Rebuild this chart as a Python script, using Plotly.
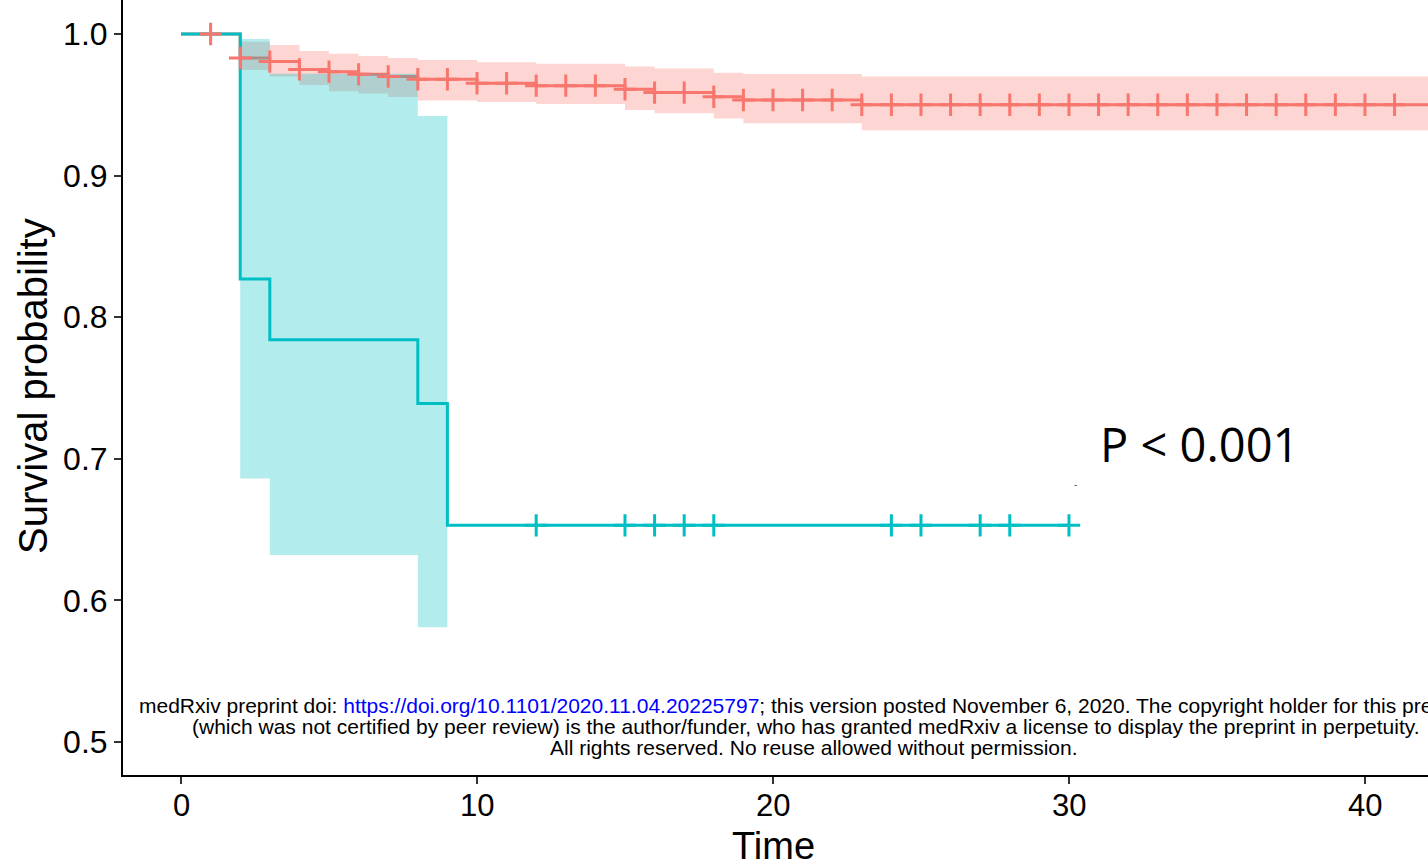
import numpy as np
import plotly.graph_objects as go

# ---------------- data ----------------
red_time = [0, 2, 3, 4, 5, 6, 7, 8, 10, 12, 15, 16, 18, 19, 23, 43]
red_surv = [1.0, 0.983, 0.9805, 0.975, 0.9734, 0.9715, 0.970, 0.968, 0.9652,
            0.9635, 0.961, 0.9586, 0.9557, 0.9534, 0.950, 0.950]
red_band_time = [2, 3, 4, 5, 6, 7, 8, 10, 12, 15, 16, 18, 19, 23, 43]
red_upper = [0.9946, 0.9922, 0.988, 0.986, 0.9845, 0.983, 0.9816, 0.980,
             0.979, 0.977, 0.9757, 0.9727, 0.9717, 0.970, 0.970]
red_lower = [0.9746, 0.970, 0.964, 0.9595, 0.958, 0.9555, 0.953, 0.952,
             0.9506, 0.9463, 0.944, 0.9404, 0.937, 0.932, 0.932]
red_censor = [1, 2, 3, 4, 5, 6, 7, 8, 9, 10, 11, 12, 13, 14, 15, 16, 17, 18,
              19, 20, 21, 22, 23, 24, 25, 26, 27, 28, 29, 30, 31, 32, 33, 34,
              35, 36, 37, 38, 39, 40, 41]

teal_time = [0, 2, 3, 8, 9, 30]
teal_surv = [1.0, 0.827, 0.784, 0.739, 0.653, 0.653]
teal_band_time = [2, 3, 8, 9]
teal_upper = [0.9965, 0.972, 0.942, 0.942]
teal_lower = [0.686, 0.632, 0.581, 0.581]
teal_censor = [12, 15, 16, 17, 18, 24, 25, 27, 28, 30]

x_ticks = [0, 10, 20, 30, 40]
x_tick_labels = ["0", "10", "20", "30", "40"]
y_ticks = [0.5, 0.6, 0.7, 0.8, 0.9, 1.0]
y_tick_labels = ["0.5", "0.6", "0.7", "0.8", "0.9", "1.0"]

p_text = "P < 0.001"
wm_lines = [
    'medRxiv preprint doi: <span style="color:#0000ff">https://doi.org/10.1101/2020.11.04.20225797</span>; '
    'this version posted November 6, 2020. The copyright holder for this preprint',
    '(which was not certified by peer review) is the author/funder, who has granted medRxiv '
    'a license to display the preprint in perpetuity.',
    'All rights reserved. No reuse allowed without permission.',
]

RED = "#F8766D"
TEAL = "#00BFC4"
RED_FILL = "rgba(248,118,109,0.3)"
TEAL_FILL = "rgba(0,191,196,0.3)"


def step_value(times, vals, t):
    idx = np.searchsorted(np.array(times), t, side="right") - 1
    return np.array(vals)[idx]


W, H = 1428, 867
ML, MR, MT, MB = 123, 0, 0, 92
PW, PH = W - ML - MR, H - MT - MB


def px2paper_x(px):
    return (px - ML) / PW


def px2paper_y(py):
    return (H - MB - py) / PH


fig = go.Figure()

# red confidence band
fig.add_trace(go.Scatter(x=red_band_time, y=red_lower, mode="lines",
                         line=dict(width=0, shape="hv"), hoverinfo="skip"))
fig.add_trace(go.Scatter(x=red_band_time, y=red_upper, mode="lines",
                         line=dict(width=0, shape="hv"), fill="tonexty",
                         fillcolor=RED_FILL, hoverinfo="skip"))
# red curve
fig.add_trace(go.Scatter(x=red_time, y=red_surv, mode="lines",
                         line=dict(color=RED, width=3, shape="hv")))
# teal confidence band
fig.add_trace(go.Scatter(x=teal_band_time, y=teal_lower, mode="lines",
                         line=dict(width=0, shape="hv"), hoverinfo="skip"))
fig.add_trace(go.Scatter(x=teal_band_time, y=teal_upper, mode="lines",
                         line=dict(width=0, shape="hv"), fill="tonexty",
                         fillcolor=TEAL_FILL, hoverinfo="skip"))
# teal curve
fig.add_trace(go.Scatter(x=teal_time, y=teal_surv, mode="lines",
                         line=dict(color=TEAL, width=3, shape="hv")))
# censor marks
fig.add_trace(go.Scatter(x=red_censor,
                         y=[step_value(red_time, red_surv, t) for t in red_censor],
                         mode="markers",
                         marker=dict(symbol="cross-thin", size=16,
                                     line=dict(color=RED, width=3))))
fig.add_trace(go.Scatter(x=teal_censor,
                         y=[step_value(teal_time, teal_surv, t) for t in teal_censor],
                         mode="markers",
                         marker=dict(symbol="cross-thin", size=16,
                                     line=dict(color=TEAL, width=3))))

annotations = [
    dict(text=p_text, x=px2paper_x(1199), y=px2paper_y(444), xref="paper", yref="paper",
         showarrow=False, xanchor="center", yanchor="middle",
         font=dict(family="Open Sans", size=47, color="black")),
    dict(text="-", x=px2paper_x(1075), y=px2paper_y(484), xref="paper", yref="paper",
         showarrow=False, xanchor="center", yanchor="middle",
         font=dict(family="Open Sans", size=10, color="#444")),
    dict(text="Survival probability", x=px2paper_x(33), y=px2paper_y(386),
         xref="paper", yref="paper", showarrow=False, textangle=-90,
         xanchor="center", yanchor="middle",
         font=dict(family="Liberation Sans", size=40, color="black")),
    dict(text="Time", x=px2paper_x(773), y=px2paper_y(846),
         xref="paper", yref="paper", showarrow=False,
         xanchor="center", yanchor="middle",
         font=dict(family="Liberation Sans", size=38, color="black")),
]
# x tick labels placed at the data positions of the ticks
for tv, tl in zip(x_ticks, x_tick_labels):
    annotations.append(dict(text=tl, x=tv, xref="x", y=px2paper_y(805), yref="paper",
                            showarrow=False, xanchor="center", yanchor="middle",
                            font=dict(family="Liberation Sans", size=31, color="black")))
wm_x = [137, 190, 548]
wm_y = [705, 726, 747]
for txt, lx, ly in zip(wm_lines, wm_x, wm_y):
    annotations.append(dict(text=txt, x=px2paper_x(lx), y=px2paper_y(ly),
                            xref="paper", yref="paper", showarrow=False,
                            xanchor="left", yanchor="middle",
                            font=dict(family="Liberation Sans", size=21, color="black")))

fig.update_layout(
    width=W, height=H,
    margin=dict(l=ML, r=MR, t=MT, b=MB, pad=0),
    plot_bgcolor="white", paper_bgcolor="white",
    showlegend=False,
    annotations=annotations,
    xaxis=dict(range=[-1.96, 42.13], tickvals=x_ticks, showticklabels=False,
               showgrid=False, zeroline=False,
               showline=True, linecolor="black", linewidth=2,
               ticks="outside", ticklen=7, tickwidth=1.5, tickcolor="#333"),
    yaxis=dict(range=[0.47669, 1.024], tickvals=y_ticks, ticktext=y_tick_labels,
               showgrid=False, zeroline=False,
               showline=True, linecolor="black", linewidth=2,
               ticks="outside", ticklen=7, tickwidth=1.5, tickcolor="#333",
               tickfont=dict(family="Liberation Sans", size=32, color="black"),
               ticklabelstandoff=0),
)

fig.write_html("out.html",
               config={"displayModeBar": False},
               post_script="document.body.style.margin='0';document.body.style.overflow='hidden';")
